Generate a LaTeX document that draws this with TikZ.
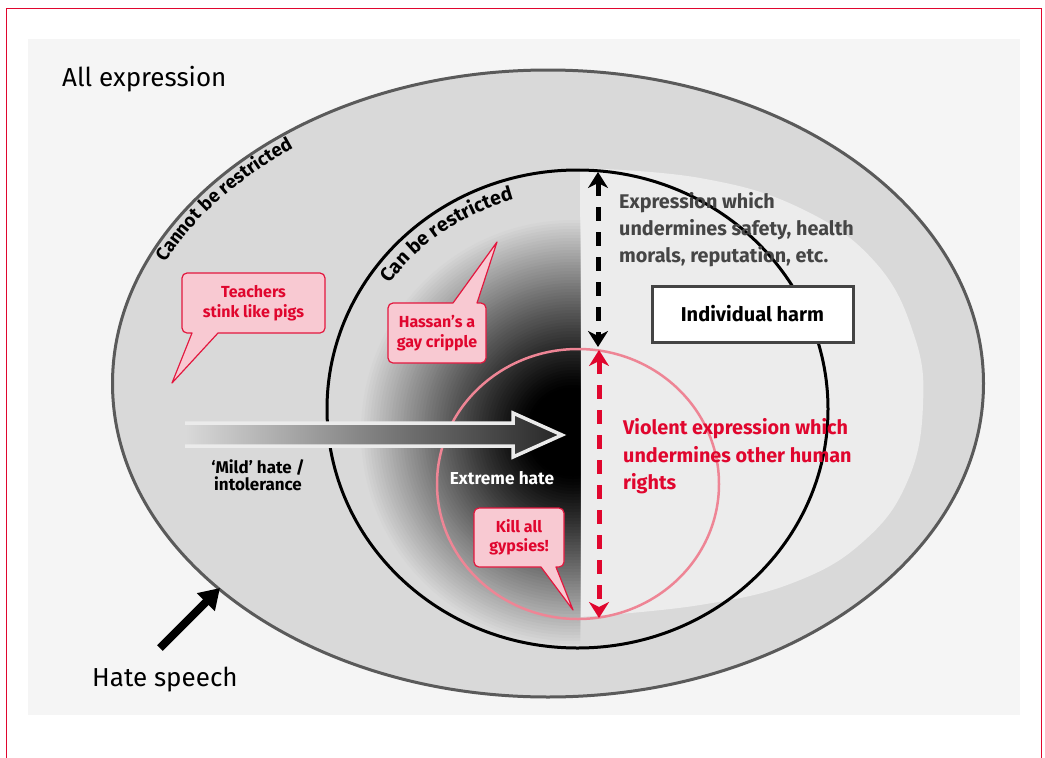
\documentclass[tikz,border=0pt]{standalone}
\usepackage{fontspec}
\setmainfont{Fira Sans}
\usetikzlibrary{arrows.meta,decorations.text,shadings}
\definecolor{bgpanel}{HTML}{F5F5F5}
\definecolor{midgray}{HTML}{D9D9D9}
\definecolor{lightreg}{HTML}{ECECEC}
\definecolor{outerline}{HTML}{5A5A5A}
\definecolor{hred}{HTML}{E0062E}
\definecolor{bubblefill}{HTML}{F8C9D2}
\definecolor{bubbleline}{HTML}{E3173E}
\definecolor{pinkline}{HTML}{EE8595}
\definecolor{darktext}{HTML}{454545}
\definecolor{boxline}{HTML}{444444}
\definecolor{arrowedge}{HTML}{EBEBEB}
\tikzset{
  bubble/.style={fill=bubblefill, draw=bubbleline, line width=1.2pt, line join=round},
  bubbletext/.style={text=hred, font=\bfseries\fontsize{16}{19.5}\selectfont, align=center, inner sep=0pt},
  bigtext/.style={font=\fontsize{26}{30}\selectfont, inner sep=0pt},
  dasharrow/.style={line width=5pt, dash pattern=on 14pt off 11pt, {Stealth[length=16pt,width=20pt,inset=5pt]}-{Stealth[length=16pt,width=20pt,inset=5pt]}},
  arctext/.style={decorate, decoration={text along path, text align=left}}
}
\begin{document}
\begin{tikzpicture}[x=1pt,y=1pt]
\useasboundingbox (0,0) rectangle (1045,-758);
\fill[white] (0,0) rectangle (1045,-758);
\draw[hred, line width=1.5pt] (6.5,-800) -- (6.5,-8.5) -- (1041.5,-8.5) -- (1041.5,-800);
\fill[bgpanel] (28,-39) rectangle (1020,-715);
% outer ellipse: hate speech / cannot be restricted
\filldraw[fill=midgray, draw=outerline, line width=3pt] (548,-383.5) ellipse [x radius=435.5, y radius=313.5];
% light right region
\fill[lightreg] plot[smooth, tension=0.7] coordinates {(580,-168) (700,-178) (800,-208) (875,-262) (914,-335) (923,-405) (908,-480) (865,-540) (795,-582) (700,-605) (580,-617)} -- cycle;
% gradient left half
\begin{scope}
  \clip (577.5,-409) ellipse [x radius=250.5, y radius=239];
  \clip (300,-100) rectangle (580,-700);
  \foreach \r in {215,212,...,45} {
    \pgfmathsetmacro\p{100*((\r-45)/170)^1.15}
    \fill[midgray!\p!black] (573,-432) circle[radius=\r];
  }
  \fill[black] (573,-432) circle[radius=44];
\end{scope}
% can be restricted circle
\draw[black, line width=3pt] (577.5,-409) ellipse [x radius=250.5, y radius=239];
% extreme hate circle
\draw[pinkline, line width=2.5pt] (578,-484) ellipse [x radius=141, y radius=135];
% arc texts
\path[arctext, decoration={text={|\bfseries\fontsize{18.5}{20}\selectfont|Cannot be restricted}}]
  (165.7,-262.9) arc[start angle=156, end angle=105, x radius=418.5, y radius=296.5];
\path[arctext, decoration={text={|\bfseries\fontsize{19.5}{21}\selectfont|Can be restricted}}]
  (389.5,-284.0) arc[start angle=145, end angle=85, x radius=229.5, y radius=218];
% big arrow
\shadedraw[left color=midgray, right color=black!85, draw=arrowedge, line width=3.5pt, line join=miter]
  (185,-423) -- (513,-423) -- (513,-413) -- (562,-435) -- (513,-457) -- (513,-446) -- (185,-446);
% bubbles
\draw[bubble] (218,-333) [rounded corners=5pt] -- (325,-333) -- (325,-273) -- (182,-273) -- (182,-333) [sharp corners] -- (192,-333) -- (172,-383) -- cycle;
\node[bubbletext] (teach) at (253.5,-303) {Teachers\\stink like pigs};
\draw[bubble] (453,-303) [rounded corners=5pt] -- (388,-303) -- (388,-363) -- (486,-363) -- (486,-303) [sharp corners] -- (477,-303) -- (497,-242) -- cycle;
\node[bubbletext] (hassan) at (437,-333) {Hassan’s a\\gay cripple};
\draw[bubble] (556,-567) [rounded corners=5pt] -- (564,-567) -- (564,-508) -- (474,-508) -- (474,-567) [sharp corners] -- (541,-567) -- (573,-610) -- cycle;
\node[bubbletext] (kill) at (519,-537.5) {Kill all\\gypsies!};
% labels
\node[bigtext, anchor=base west] (allexp) at (62,-86) {All expression};
\node[bigtext, anchor=base west] (hatesp) at (92,-686) {Hate speech};
\node[font=\bfseries\fontsize{17}{14}\selectfont, align=center, inner sep=0pt] (mild) at (258,-475) {‘Mild’ hate /\\intolerance};
\node[font=\bfseries\fontsize{17.3}{18}\selectfont, text=white, inner sep=0pt] (extreme) at (502,-478) {Extreme hate};
\node[font=\bfseries\fontsize{19.8}{27}\selectfont, text=darktext, align=left, anchor=west, inner sep=0pt] (undermines) at (619,-230) {Expression which\\undermines safety, health\\morals, reputation, etc.};
\node[font=\bfseries\fontsize{19.8}{27.5}\selectfont, text=hred, align=left, anchor=west, inner sep=0pt] (violent) at (623,-456.5) {Violent expression which\\undermines other human\\rights};
\node[draw=boxline, line width=3pt, fill=white, minimum width=201pt, minimum height=56pt, font=\bfseries\fontsize{20}{22}\selectfont, inner sep=0pt] (indiv) at (752.5,-314) {Individual harm};
% dashed arrows
\coordinate (btop) at (598,-172);
\coordinate (bbot) at (598,-347);
\coordinate (rtop) at (599,-350);
\coordinate (rbot) at (599,-618);
\draw[dasharrow, black] (btop) -- (bbot);
\draw[dasharrow, hred] (rtop) -- (rbot);
% hate speech pointer
\coordinate (hsA) at (160,-648);
\coordinate (hsB) at (220,-588);
\draw[line width=8pt, -{Triangle[length=20pt,width=24pt]}] (hsA) -- (hsB);
\end{tikzpicture}
\end{document}
